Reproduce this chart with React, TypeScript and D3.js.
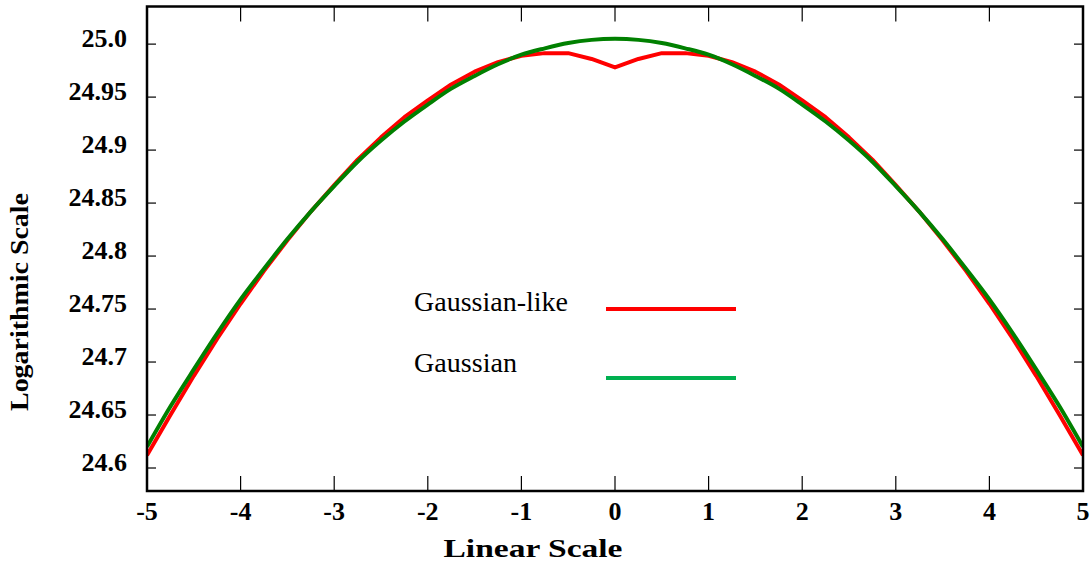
import React from 'react';
import * as d3 from 'd3';

// sample positions along the linear axis
const xs = [
  -5, -4.75, -4.5, -4.25, -4, -3.75, -3.5, -3.25, -3, -2.75, -2.5, -2.25, -2, -1.75, -1.5, -1.25, -1,
  -0.75, -0.5, -0.25, 0, 0.25, 0.5, 0.75, 1, 1.25, 1.5, 1.75, 2, 2.25, 2.5, 2.75, 3, 3.25, 3.5, 3.75,
  4, 4.25, 4.5, 4.75, 5,
];

// values
const gaussian = [
  24.62, 24.658, 24.693, 24.727, 24.759, 24.788, 24.816, 24.842, 24.866, 24.889, 24.909, 24.927,
  24.943, 24.958, 24.97, 24.981, 24.99, 24.996, 25.001, 25.004, 25.005, 25.004, 25.001, 24.996, 24.99,
  24.981, 24.97, 24.958, 24.943, 24.927, 24.909, 24.889, 24.866, 24.842, 24.816, 24.788, 24.759,
  24.727, 24.693, 24.658, 24.62,
];
const gaussianLike = [
  24.612, 24.65, 24.687, 24.722, 24.755, 24.786, 24.815, 24.842, 24.867, 24.891, 24.912, 24.931,
  24.947, 24.962, 24.974, 24.983, 24.989, 24.9915, 24.9915, 24.986, 24.978, 24.986, 24.9915, 24.9915,
  24.989, 24.983, 24.974, 24.962, 24.947, 24.931, 24.912, 24.891, 24.867, 24.842, 24.815, 24.786,
  24.755, 24.722, 24.687, 24.65, 24.612,
];

const xTicks = [-5, -4, -3, -2, -1, 0, 1, 2, 3, 4, 5];
const yTicks = [24.6, 24.65, 24.7, 24.75, 24.8, 24.85, 24.9, 24.95, 25.0];
const yTickLabels = ['24.6', '24.65', '24.7', '24.75', '24.8', '24.85', '24.9', '24.95', '25.0'];

const seriesNames = ['Gaussian-like', 'Gaussian'];

const W = 1090;
const H = 565;
const plot = { left: 147, right: 1083, top: 6.5, bottom: 491 };
const font = '"Liberation Serif", "Times New Roman", serif';

export default function App() {
  const x = d3.scaleLinear().domain([-5, 5]).range([plot.left, plot.right]);
  const y = d3.scaleLinear().domain([24.5783, 25.0355]).range([plot.bottom, plot.top]);

  // smooth curve for the gaussian, straight segments for the one with the dip
  const smoothLine = d3
    .line<number>()
    .x((_, i) => x(xs[i]))
    .y((d) => y(d))
    .curve(d3.curveMonotoneX);
  const plainLine = d3
    .line<number>()
    .x((_, i) => x(xs[i]))
    .y((d) => y(d));

  return (
    <svg
      width={W}
      height={H}
      style={{ position: 'absolute', left: 0, top: 0, background: '#fff' }}
      fontFamily={font}
    >
      <defs>
        <clipPath id="plotClip">
          <rect x={plot.left} y={plot.top} width={plot.right - plot.left} height={plot.bottom - plot.top} />
        </clipPath>
      </defs>

      {/* ticks */}
      {xTicks.map((t) => (
        <g key={'xt' + t} stroke="#000" strokeWidth={1.2}>
          <line x1={x(t)} x2={x(t)} y1={plot.bottom} y2={plot.bottom - 15} />
          <line x1={x(t)} x2={x(t)} y1={plot.top} y2={plot.top + 15} />
        </g>
      ))}
      {yTicks.map((t) => (
        <g key={'yt' + t} stroke="#000" strokeWidth={1.2}>
          <line x1={plot.left} x2={plot.left + 9} y1={y(t)} y2={y(t)} />
          <line x1={plot.right} x2={plot.right - 9} y1={y(t)} y2={y(t)} />
        </g>
      ))}

      {/* curves */}
      <g clipPath="url(#plotClip)" fill="none" strokeWidth={4} strokeLinejoin="round">
        <path d={plainLine(gaussianLike) || ''} stroke="#ff0000" />
        <path d={smoothLine(gaussian) || ''} stroke="#008000" />
      </g>

      {/* frame */}
      <rect
        x={plot.left}
        y={plot.top}
        width={plot.right - plot.left}
        height={plot.bottom - plot.top}
        fill="none"
        stroke="#000"
        strokeWidth={2.5}
      />

      {/* tick labels */}
      {xTicks.map((t) => (
        <text key={'xl' + t} x={x(t)} y={520} textAnchor="middle" fontSize={26} fontWeight="bold">
          {String(t)}
        </text>
      ))}
      {yTicks.map((t, i) => (
        <text key={'yl' + t} x={127} y={y(t) + 2.5} textAnchor="end" fontSize={26} fontWeight="bold">
          {yTickLabels[i]}
        </text>
      ))}

      {/* axis titles */}
      <text
        x={533}
        y={557}
        textAnchor="middle"
        fontSize={26}
        fontWeight="bold"
        textLength={179}
        lengthAdjust="spacingAndGlyphs"
      >
        Linear Scale
      </text>
      <text
        transform="translate(27.5,302) rotate(-90)"
        textAnchor="middle"
        fontSize={26}
        fontWeight="bold"
        textLength={218}
        lengthAdjust="spacingAndGlyphs"
      >
        Logarithmic Scale
      </text>

      {/* legend */}
      <text x={414} y={311} fontSize={27} textLength={154} lengthAdjust="spacingAndGlyphs">
        {seriesNames[0]}
      </text>
      <line x1={606} x2={736} y1={309} y2={309} stroke="#ff0000" strokeWidth={4} />
      <text x={414} y={372} fontSize={27} textLength={103} lengthAdjust="spacingAndGlyphs">
        {seriesNames[1]}
      </text>
      <line x1={606} x2={736} y1={378} y2={378} stroke="#00b050" strokeWidth={4} />
    </svg>
  );
}
